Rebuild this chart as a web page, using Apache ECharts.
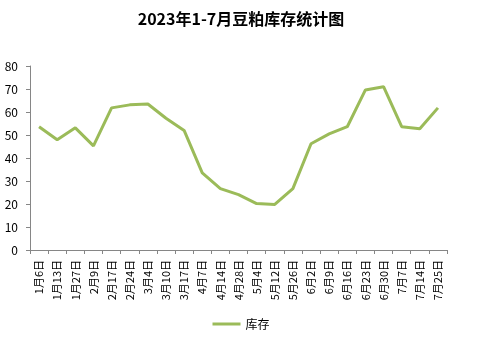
<!DOCTYPE html>
<html><head><meta charset="utf-8">
<script src="https://cdn.jsdelivr.net/npm/echarts@6/dist/echarts.min.js"></script>
<style>html,body{margin:0;padding:0;background:#fff}#c{width:482px;height:353px}</style>
</head><body><div id="c"></div>
<script>
const categories = ['1月6日','1月13日','1月27日','2月9日','2月17日','2月24日','3月4日','3月10日','3月17日','4月7日','4月14日','4月28日','5月4日','5月12日','5月26日','6月2日','6月9日','6月16日','6月23日','6月30日','7月7日','7月14日','7月25日'];
const stock = [53.6,47.9,53.1,45.3,61.8,63.1,63.5,57.3,52.0,33.5,26.7,24.1,20.2,19.8,26.7,46.2,50.5,53.6,69.6,71.0,53.6,52.7,61.8];
const yTicks = {min:0, max:80, interval:10};
const chart = echarts.init(document.getElementById('c'), null, {renderer:'canvas'});
const font = '"Noto Sans CJK SC", "DejaVu Sans", sans-serif';
chart.setOption({
  animation:false,
  title:{text:'2023年1-7月豆粕库存统计图', left:'center', top:6,
    textStyle:{fontSize:16, fontWeight:'bold', color:'#000', fontFamily:font}},
  legend:{bottom:18, left:'center', itemWidth:28, itemHeight:3, itemGap:4,
    icon:'rect',
    textStyle:{fontSize:12, color:'#000', fontFamily:font}, data:['库存']},
  grid:{left:30, right:35, top:66, bottom:103, containLabel:false},
  xAxis:{type:'category', data:categories, boundaryGap:true,
    axisLine:{lineStyle:{color:'#868686', width:1}},
    axisTick:{show:true, alignWithLabel:false, length:4, lineStyle:{color:'#868686'}},
    axisLabel:{rotate:90, interval:0, fontSize:11, color:'#000', fontFamily:font, margin:10}},
  yAxis:{type:'value', min:yTicks.min, max:yTicks.max, interval:yTicks.interval,
    axisLine:{show:true, lineStyle:{color:'#868686', width:1}},
    axisTick:{show:true, length:4, lineStyle:{color:'#868686'}},
    splitLine:{show:false},
    axisLabel:{fontSize:12, color:'#000', fontFamily:font, margin:12}},
  series:[{name:'库存', type:'line', data:stock, symbol:'none', smooth:false,
    lineStyle:{color:'#9BBB59', width:3}, itemStyle:{color:'#9BBB59'}}]
});
</script></body></html>
